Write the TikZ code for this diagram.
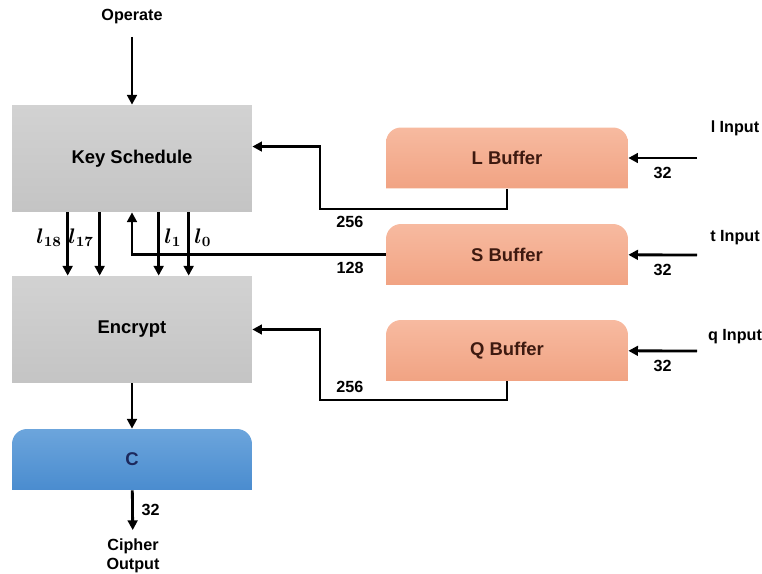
\documentclass[tikz,border=0pt]{standalone}
\usepackage{fontspec}
\setmainfont{Liberation Sans}
\usepackage{bm}
\usetikzlibrary{arrows.meta,positioning}

\definecolor{ksgray}{RGB}{210,210,210}
\definecolor{ksgraydark}{RGB}{196,196,196}
\definecolor{buftop}{RGB}{247,186,160}
\definecolor{bufbot}{RGB}{241,163,131}
\definecolor{ctop}{RGB}{108,165,220}
\definecolor{cbot}{RGB}{74,140,207}
\definecolor{navy}{RGB}{28,40,92}
\definecolor{brownish}{RGB}{62,26,16}

\begin{document}
\begin{tikzpicture}[
		x=0.02cm, y=-0.02cm,
		box/.style={align=center, font=\bfseries\fontsize{10.5}{12}\selectfont, inner sep=0pt},
		block/.style={box, minimum width=4.8cm, minimum height=2.14cm, top color=ksgray, bottom color=ksgraydark},
		topround/.style 2 args={box, path picture={\shade[top color=#1, bottom color=#2]
			(path picture bounding box.south west) -- ([yshift=-8.5pt]path picture bounding box.north west)
			arc[start angle=180, end angle=90, radius=8.5pt] -- ([xshift=-8.5pt]path picture bounding box.north east)
			arc[start angle=90, end angle=0, radius=8.5pt] -- (path picture bounding box.south east) -- cycle;}},
		buffer/.style={topround={buftop}{bufbot}, minimum width=4.84cm, minimum height=1.22cm, text=brownish},
		outbox/.style={topround={ctop}{cbot}, minimum width=4.8cm, minimum height=1.22cm, text=navy},
		io/.style={align=center, font=\bfseries\fontsize{9.2}{10.5}\selectfont},
		lbl/.style={font=\bfseries\fontsize{9.2}{10.5}\selectfont},
		sym/.style={font=\fontsize{11.5}{13}\selectfont, inner sep=2.5pt},
		arrow/.style={-{Triangle[length=5.5pt, width=5.5pt]}, line width=1.6pt}
	]
		\useasboundingbox (0,0) rectangle (762,574);
		% main blocks
		\node[block] (ks) at (132,158.5) {Key Schedule};
		\node[block] (enc) at (132,329.5) {Encrypt};
		\node[outbox] (c) at (132,459.5) {C};
		% buffers
		\node[buffer] (lbuf) at (507,158) {L Buffer};
		\node[buffer] (sbuf) at (507,254.5) {S Buffer};
		\node[buffer] (qbuf) at (507,350.5) {Q Buffer};
		% inputs and outputs
		\node[io, inner sep=7pt] (op) at (132,17) {Operate};
		\node[io] (lin) at (735,128) {l Input};
		\node[io] (tin) at (735,238) {t Input};
		\node[io] (qin) at (735,337) {q Input};
		\node[io, inner sep=5pt] (out) at (133,556) {Cipher\\Output};
		\coordinate (lsrc) at (697,158);
		\coordinate (ssrc) at (697,255);
		\coordinate (qsrc) at (697,351);
		\coordinate (lturn) at (320,209);
		\coordinate (qturn) at (320,400);

		\draw[arrow] (op) -- (ks);
		\draw[arrow] (lsrc) -- (lbuf) node[lbl, midway, below=1pt] {32};
		\draw[arrow] (ssrc) -- (sbuf) node[lbl, midway, below=1pt] {32};
		\draw[arrow] (qsrc) -- (qbuf) node[lbl, midway, below=1pt] {32};
		\draw[arrow] (lbuf.south) |- (lturn) node[lbl, pos=0.92, below] {256} |- ([yshift=6.8pt]ks.east);
		\draw[arrow] (sbuf.west) -| (ks.south) node[lbl, pos=0.07, below] {128};
		\draw[arrow] (qbuf.south) |- (qturn) node[lbl, pos=0.92, above] {256} |- (enc.east);
		\foreach \dx/\sub/\side in {56/18/left, 88/17/left, 147/1/right, 177/0/right}
			\draw[arrow] (ks.south west) ++(\dx,0) coordinate (k\sub) -- (k\sub |- enc.north)
				node[sym, pos=0.4, \side] {$\bm{l}_{\bm{\sub}}$};
		\draw[arrow] (enc) -- (c);
		\draw[arrow] (c) -- (out) node[lbl, midway, right=1pt] {32};
	\end{tikzpicture}
\end{document}
